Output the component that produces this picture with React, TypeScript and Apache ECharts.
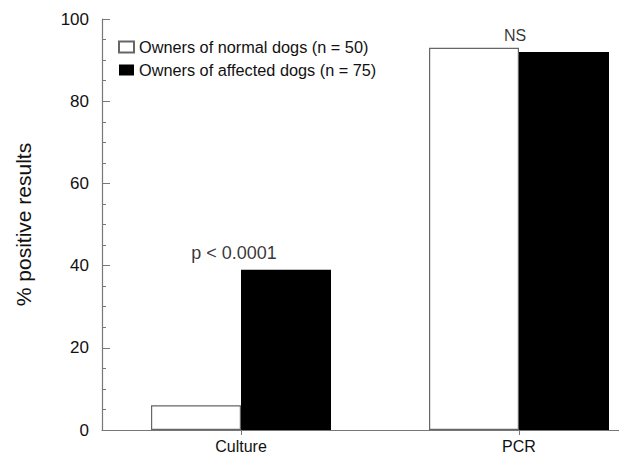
import React, { useEffect, useRef } from "react";
import * as echarts from "echarts";

const categories = ["Culture", "PCR"];
const seriesNames = ["Owners of normal dogs (n = 50)", "Owners of affected dogs (n = 75)"];
const normalValues = [6, 93];
const affectedValues = [39, 92];
const annotations = ["p < 0.0001", "NS"];
const annotationValues = [39, 93];
const yTicks = [0, 20, 40, 60, 80, 100];

export default function App() {
  const ref = useRef<HTMLDivElement>(null);
  useEffect(() => {
    if (!ref.current) return;
    const chart = echarts.init(ref.current, null, { renderer: "svg" });
    const font = "Liberation Sans, Arial, sans-serif";
    chart.setOption({
      animation: false,
      backgroundColor: "#ffffff",
      textStyle: { fontFamily: font },
      grid: { left: 102, top: 19, bottom: 29, width: 556, containLabel: false },
      legend: {
        orient: "vertical",
        left: 113,
        top: 34,
        itemWidth: 15,
        itemHeight: 11,
        itemGap: 7,
        icon: "rect",
        selectedMode: false,
        textStyle: { fontFamily: font, fontSize: 16.3, color: "#111" },
        data: seriesNames,
      },
      xAxis: {
        type: "category",
        data: categories,
        boundaryGap: true,
        axisLine: { show: true, lineStyle: { color: "#777", width: 1.2 } },
        axisTick: { show: true, alignWithLabel: true, length: 5, lineStyle: { color: "#777" } },
        axisLabel: { fontFamily: font, fontSize: 16, color: "#111", margin: 8 },
        splitLine: { show: false },
      },
      yAxis: {
        type: "value",
        min: 0,
        max: 100,
        interval: 20,
        name: "% positive results",
        nameLocation: "middle",
        nameRotate: 90,
        nameGap: 68,
        nameTextStyle: { fontFamily: font, fontSize: 21, color: "#111" },
        axisLine: { show: true, lineStyle: { color: "#777", width: 1.2 } },
        axisTick: { show: true, inside: true, length: 8, lineStyle: { color: "#777" } },
        minorTick: { show: true, splitNumber: 4, length: 4, lineStyle: { color: "#777" } },
        axisLabel: {
          fontFamily: font,
          fontSize: 17,
          color: "#111",
          margin: 13,
          formatter: (v: number) => (yTicks.includes(v) ? String(v) : ""),
        },
        splitLine: { show: false },
      },
      series: [
        {
          name: seriesNames[0],
          type: "bar",
          data: normalValues,
          barWidth: 90,
          barGap: "0%",
          itemStyle: { color: "#ffffff", borderColor: "#666", borderWidth: 1.2 },
        },
        {
          name: seriesNames[1],
          type: "bar",
          data: affectedValues,
          barWidth: 90,
          barGap: "0%",
          itemStyle: { color: "#000000", borderColor: "#000", borderWidth: 0 },
        },
        {
          type: "scatter",
          symbolSize: 1,
          itemStyle: { color: "rgba(0,0,0,0)" },
          silent: true,
          data: annotationValues.map((v, i) => ({
            value: [i, v],
            label: {
              show: true,
              position: "top",
              formatter: annotations[i],
              distance: i === 0 ? 7 : 4,
              offset: i === 0 ? [-7, 0] : [-4, 0],
              fontFamily: font,
              fontSize: i === 0 ? 18 : 16,
              color: "#000",
            },
          })),
        },
      ],
    });
    return () => chart.dispose();
  }, []);
  return (
    <div style={{ position: "absolute", left: 0, top: 0, width: 619, height: 459, overflow: "hidden" }}>
      <div ref={ref} style={{ width: 670, height: 459 }} />
    </div>
  );
}
